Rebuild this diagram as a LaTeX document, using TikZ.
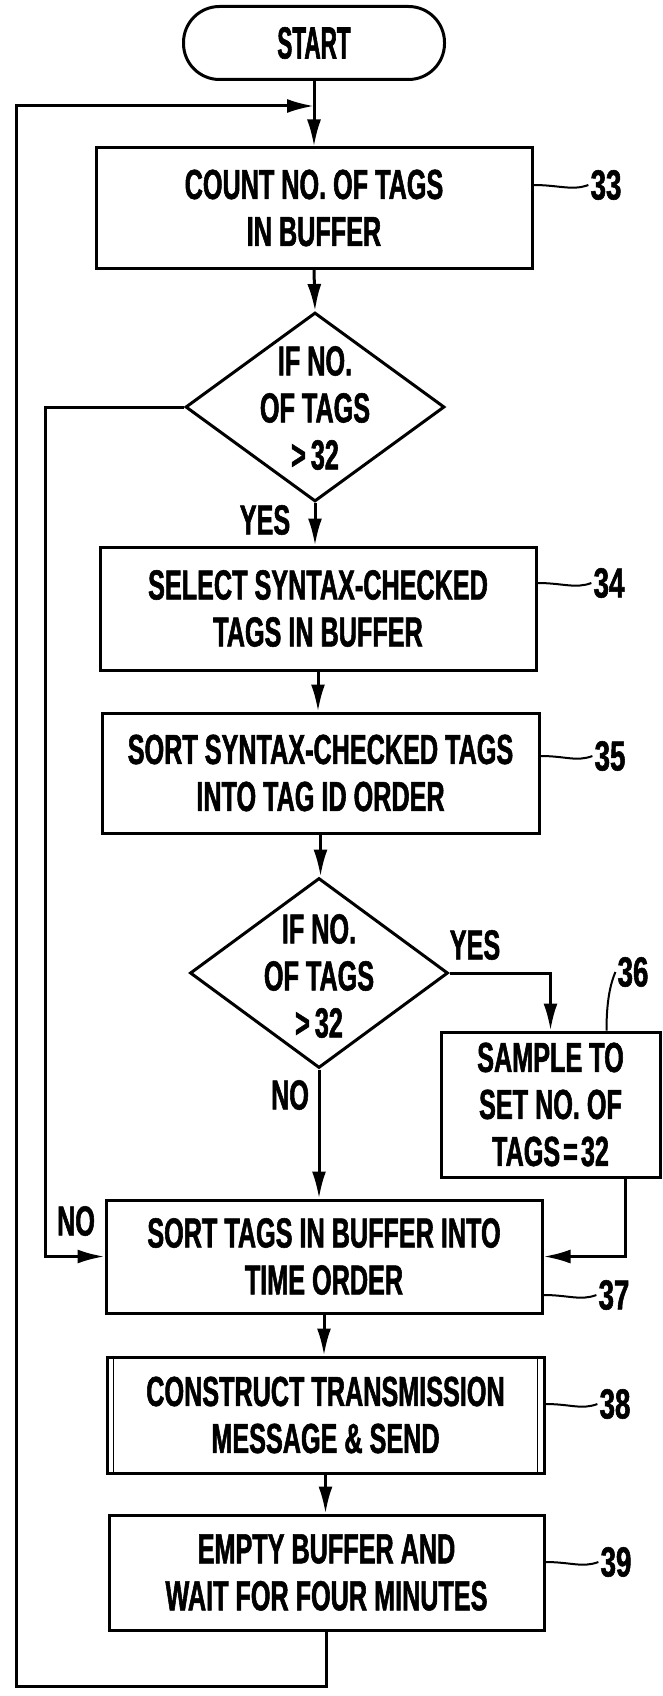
\documentclass[tikz,border=0pt]{standalone}
\usepackage{fontspec}
\usepackage{graphicx}
\usetikzlibrary{arrows.meta,calc,shapes.geometric}
\newfontfamily\cfont{Liberation Sans}[FakeStretch=0.6, BoldFeatures={FakeBold=1.3}]
\newfontfamily\nfont{Liberation Sans}[FakeStretch=0.66, BoldFeatures={FakeBold=1.3}]
\newfontfamily\startfont{Liberation Sans}[FakeStretch=0.5, BoldFeatures={FakeBold=1.3}]
\tikzset{
  x=1pt, y=-1pt,
  txt/.style={font=\cfont\bfseries\fontsize{42}{47}\selectfont},
  box/.style={draw, rectangle, line width=3pt, inner sep=0pt, align=center, txt},
  termbox/.style={draw, rectangle, rounded corners=36pt, line width=3pt, inner sep=0pt,
    minimum width=261pt, minimum height=73pt, font=\startfont\bfseries\fontsize{45}{47}\selectfont},
  decision/.style={draw, diamond, line width=3pt, inner sep=0pt},
  dtext/.style={align=center, inner sep=0pt, txt},
  lbl/.style={font=\nfont\bfseries\fontsize{42}{44}\selectfont, inner sep=2pt},
  yn/.style={font=\cfont\bfseries\fontsize{42}{44}\selectfont, inner sep=0pt},
  arr/.style={-{Latex[length=27pt,width=14pt]}, line width=3pt},
  leader/.style={line width=2pt},
}
\begin{document}
\begin{tikzpicture}
\useasboundingbox (0,0) rectangle (663,1696);
% nodes
\node[termbox] (start) at (314,43) {START};
\node[box, minimum width=436pt, minimum height=120pt] (b33) at (314,208) {COUNT NO. OF TAGS\\IN BUFFER};
\node[decision, minimum width=259pt, minimum height=189pt] (d1) at (315,407) {};
\node[dtext] (d1t) at (315,408) {IF NO.\\OF TAGS\\>\kern5pt 32};
\node[box, minimum width=436pt, minimum height=123pt] (b34) at (318,608.5) {SELECT SYNTAX-CHECKED\\TAGS IN BUFFER};
\node[box, minimum width=437pt, minimum height=120pt] (b35) at (320.5,773) {SORT SYNTAX-CHECKED TAGS\\INTO TAG ID ORDER};
\node[decision, minimum width=258pt, minimum height=190pt] (d2) at (319,973) {};
\node[dtext] (d2t) at (319,976) {IF NO.\\OF TAGS\\>\kern5pt 32};
\node[box, minimum width=219pt, minimum height=145pt] (b36) at (550.5,1104.5) {SAMPLE TO\\SET NO. OF\\TAGS\kern3pt=\kern3pt 32};
\node[box, minimum width=436pt, minimum height=113pt] (b37) at (324,1256.5) {SORT TAGS IN BUFFER INTO\\TIME ORDER};
\node[box, minimum width=437pt, minimum height=116pt] (b38) at (325.5,1415) {CONSTRUCT TRANSMISSION\\MESSAGE \& SEND};
\node[box, minimum width=435pt, minimum height=115pt] (b39) at (326.5,1572.5) {EMPTY BUFFER AND\\WAIT FOR FOUR MINUTES};
% predefined-process side bars of 38
\draw[line width=1.5pt] ([xshift=8pt]b38.north west) -- ([xshift=8pt]b38.south west);
\draw[line width=1.5pt] ([xshift=-8pt]b38.north east) -- ([xshift=-8pt]b38.south east);
% branch labels
\node[yn] (yes1) at (265,520) {YES};
\node[yn] (yes2) at (475,945) {YES};
\node[yn] (no2) at (290,1095) {NO};
\node[yn] (no1) at (76,1221) {NO};
% reference numerals
\node[lbl] (l33) at (606,185) {33};
\node[lbl] (l34) at (609,583) {34};
\node[lbl] (l35) at (610,756) {35};
\node[lbl] (l36) at (633,972) {36};
\node[lbl] (l37) at (614,1295) {37};
\node[lbl] (l38) at (615,1404) {38};
\node[lbl] (l39) at (616,1562) {39};
% coordinates
\coordinate (j) at (314,106);
\coordinate (cb) at (326.5,1686);
\coordinate (cbl) at (16,1686);
\coordinate (ctl) at (16,106);
\coordinate (n1) at (45,407);
\coordinate (n2) at (45,1256.5);
\coordinate (r1) at ($(b36.south east)+(-36,0)$);
\coordinate (c36) at ($(b36.north west)+(167,0)$);
% connectors
\draw[arr] (start.south) -- (b33.north);
\draw[arr] (b39.south) -- (cb) -- (cbl) -- (ctl) -- (j);
\draw[arr] (b33.south) -- (d1.north);
\draw[arr] (d1.south) -- (d1.south |- b34.north);
\draw[arr] (d1.west) -- (n1) -- (n2) -- (b37.west);
\draw[arr] (b34.south) -- (b34.south |- b35.north);
\draw[arr] (b35.south) -- (b35.south |- d2.north);
\draw[arr] (d2.east) -| (b36.north);
\draw[arr] (d2.south) -- (d2.south |- b37.north);
\draw[arr] (r1) |- (b37.east);
\draw[arr] (b37.south) -- (b37.south |- b38.north);
\draw[arr] (b38.south) -- (b38.south |- b39.north);
% leaders
\draw[leader] (b33.east |- l33.west) .. controls +(25,0) and +(-16,6) .. (l33.west);
\draw[leader] (b34.east |- l34.west) .. controls +(25,0) and +(-16,6) .. (l34.west);
\draw[leader] (b35.east |- l35.west) .. controls +(25,0) and +(-16,6) .. (l35.west);
\draw[leader] (b37.east |- l37.west) .. controls +(25,0) and +(-16,6) .. (l37.west);
\draw[leader] (b38.east |- l38.west) .. controls +(25,0) and +(-16,6) .. (l38.west);
\draw[leader] (b39.east |- l39.west) .. controls +(25,0) and +(-16,6) .. (l39.west);
\draw[leader] (c36) .. controls +(0,-30) and +(-5,12) .. (l36.west);
\end{tikzpicture}
\end{document}
